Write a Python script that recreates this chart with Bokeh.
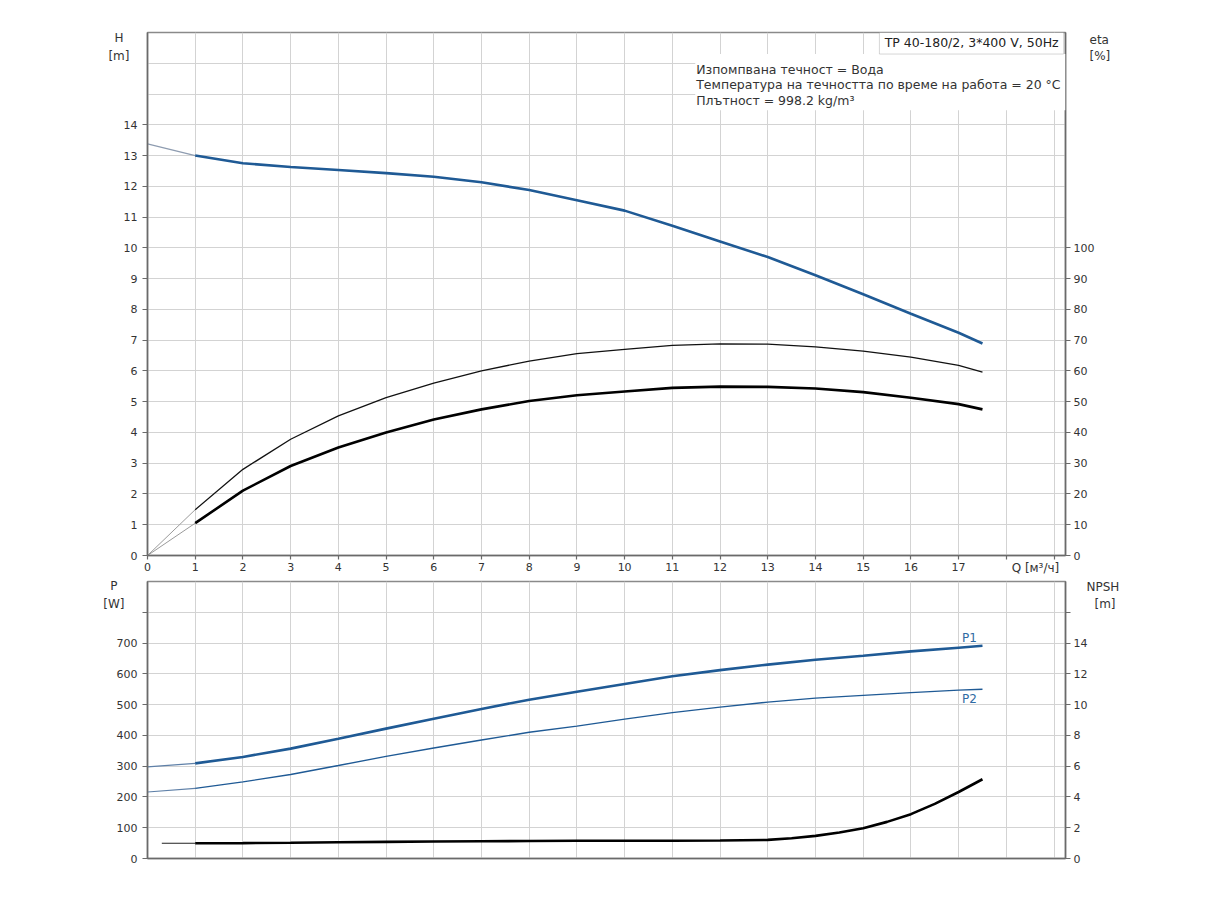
from bokeh.plotting import figure
from bokeh.models import Range1d, LinearAxis, FixedTicker, Label, BoxAnnotation
from bokeh.layouts import column
from bokeh.embed import file_html
from bokeh.resources import INLINE

FONT = "DejaVu Sans"
BLUE = "#1f5a95"

# ---- data ----
q_lead = [0, 1]
q = [1, 2, 3, 4, 5, 6, 7, 8, 9, 10, 11, 12, 13, 14, 15, 16, 17, 17.5]

h_lead = [13.38, 13.0]
h = [13.0, 12.75, 12.63, 12.53, 12.43, 12.31, 12.13, 11.88, 11.55, 11.21,
     10.72, 10.21, 9.70, 9.11, 8.49, 7.86, 7.24, 6.89]

eta_pump_lead = [0, 14.9]
eta_pump = [14.9, 28.0, 37.8, 45.4, 51.3, 56.0, 60.0, 63.2, 65.6, 67.0,
            68.3, 68.8, 68.7, 67.8, 66.4, 64.5, 61.8, 59.6]

eta_total_lead = [0, 10.5]
eta_total = [10.5, 21.1, 29.1, 35.1, 40.0, 44.2, 47.5, 50.2, 52.1, 53.3,
             54.5, 54.9, 54.8, 54.3, 53.1, 51.3, 49.2, 47.5]

p1_lead = [298, 309]
p1 = [309, 330, 357, 389, 422, 454, 486, 516, 542, 567,
      592, 612, 630, 646, 659, 673, 685, 691]

p2_lead = [216, 228]
p2 = [228, 249, 273, 302, 332, 359, 385, 410, 430, 453,
      474, 492, 508, 521, 530, 539, 547, 550]

q_npsh_lead = [0.3, 1]
npsh_lead = [0.99, 0.99]
q_npsh = [1, 2, 3, 4, 5, 6, 7, 8, 9, 10, 11, 12, 13, 13.5, 14, 14.5, 15,
          15.5, 16, 16.5, 17, 17.5]
npsh = [0.99, 1.0, 1.02, 1.06, 1.08, 1.10, 1.12, 1.14, 1.15, 1.15, 1.15,
        1.17, 1.21, 1.32, 1.47, 1.69, 1.97, 2.38, 2.88, 3.55, 4.32, 5.15]

x_ticks = list(range(0, 20))
x_tick_labels = {i: (str(i) if i <= 17 else "") for i in x_ticks}
h_ticks = list(range(0, 15))
h_grid = list(range(0, 18))
eta_ticks = list(range(0, 101, 10))
p_ticks = list(range(0, 801, 100))
p_tick_labels = {v: (str(v) if v <= 700 else "") for v in p_ticks}
p_grid = list(range(0, 901, 100))
npsh_ticks = list(range(0, 17, 2))
npsh_tick_labels = {v: (str(v) if v <= 14 else "") for v in npsh_ticks}

model_text = "TP 40-180/2, 3*400 V, 50Hz"
info_lines = ["Изпомпвана течност = Вода",
              "Температура на течността по време на работа = 20 °C",
              "Плътност = 998.2 kg/m³"]
q_title = "Q [м³/ч]"

AX_COL = "#6a6a6a"
GRID_COL = "#d3d3d3"
TXT_COL = "#333333"


def style_axis(ax, tick_out=5, standoff=4):
    ax.axis_line_color = AX_COL
    ax.axis_line_width = 1.6
    ax.major_tick_line_color = AX_COL
    ax.major_tick_line_width = 1.2
    ax.major_tick_in = 0
    ax.major_tick_out = tick_out
    ax.minor_tick_line_color = None
    ax.major_label_text_font = FONT
    ax.major_label_text_font_size = "11px"
    ax.major_label_text_color = TXT_COL
    ax.major_label_standoff = standoff


def title_axis(p, place, labels, standoff, size="12px"):
    """An axis with no line and no tick marks, used to carry a unit title."""
    ax = LinearAxis(ticker=FixedTicker(ticks=list(labels.keys())),
                    major_label_overrides=labels)
    ax.axis_line_color = None
    ax.major_tick_line_color = None
    ax.minor_tick_line_color = None
    ax.major_tick_in = 0
    ax.major_tick_out = 0
    ax.minor_tick_in = 0
    ax.minor_tick_out = 0
    ax.major_label_standoff = standoff
    ax.major_label_text_font = FONT
    ax.major_label_text_font_size = size
    ax.major_label_text_color = TXT_COL
    p.add_layout(ax, place)


def style_fig(p):
    p.xgrid.ticker = FixedTicker(ticks=x_ticks)
    p.grid.grid_line_color = GRID_COL
    p.grid.grid_line_width = 1
    p.outline_line_color = "#8a8a8a"
    p.outline_line_width = 1.4
    p.background_fill_color = "white"
    p.border_fill_color = "white"


def add_text(p, text, x, y, align="left", size="12px", color=TXT_COL):
    p.add_layout(Label(x=x, y=y, text=text, text_font=FONT, text_font_size=size,
                       text_color=color, text_align=align, text_baseline="middle"))


# ---------------- top chart: H and eta ----------------
top = figure(frame_width=918, frame_height=523,
             x_range=Range1d(0, 19.24), y_range=Range1d(0, 17),
             output_backend="svg", toolbar_location=None,
             min_border_left=147, min_border_right=80,
             min_border_top=32, min_border_bottom=22)
top.extra_y_ranges = {"eta": Range1d(0, 170)}
style_fig(top)
top.ygrid.ticker = FixedTicker(ticks=h_grid)

top.xaxis.ticker = FixedTicker(ticks=x_ticks)
top.xaxis.major_label_overrides = x_tick_labels
style_axis(top.xaxis[0], tick_out=4, standoff=3)
top.yaxis.ticker = FixedTicker(ticks=h_ticks)
style_axis(top.yaxis[0], tick_out=5, standoff=5)

eta_axis = LinearAxis(y_range_name="eta", ticker=FixedTicker(ticks=eta_ticks))
style_axis(eta_axis, tick_out=5, standoff=3)
top.add_layout(eta_axis, "right")

# unit titles carried by line-less axes
title_axis(top, "left", {16.23: "[m]"}, -9)
title_axis(top, "left", {16.81: "H"}, -18)
title_axis(top, "right", {16.77: "eta", 16.25: "[%]"}, -8)
title_axis(top, "below", {18.61: q_title}, -13)

top.line(q_lead, h_lead, line_color="#8e9cb0", line_width=1.2)
top.line(q, h, line_color=BLUE, line_width=2.6)
top.line(q_lead, eta_pump_lead, y_range_name="eta", line_color="#9a9a9a", line_width=1)
top.line(q, eta_pump, y_range_name="eta", line_color="#111111", line_width=1.3)
top.line(q_lead, eta_total_lead, y_range_name="eta", line_color="#9a9a9a", line_width=1)
top.line(q, eta_total, y_range_name="eta", line_color="#000000", line_width=2.6)

top.add_layout(BoxAnnotation(left=11.48, right=19.24, bottom=14.47, top=16.30,
                             fill_color="white", fill_alpha=1.0, line_color=None))
top.add_layout(BoxAnnotation(left=15.34, right=19.2, bottom=16.30, top=17,
                             fill_color="white", fill_alpha=1.0,
                             line_color="#7a7a7a", line_width=1))
add_text(top, model_text, 15.45, 16.66, size="12.5px", color="#222222")
for txt, yy in zip(info_lines, [15.81, 15.32, 14.78]):
    add_text(top, txt, 11.5, yy, size="12.5px")

# ---------------- bottom chart: P and NPSH ----------------
bot = figure(frame_width=918, frame_height=277,
             x_range=Range1d(0, 19.24), y_range=Range1d(0, 900),
             output_backend="svg", toolbar_location=None,
             min_border_left=147, min_border_right=80,
             min_border_top=4, min_border_bottom=12)
bot.extra_y_ranges = {"npsh": Range1d(0, 18)}
style_fig(bot)
bot.ygrid.ticker = FixedTicker(ticks=p_grid)

bot.xaxis.ticker = FixedTicker(ticks=[])
style_axis(bot.xaxis[0], tick_out=0, standoff=0)
bot.yaxis.ticker = FixedTicker(ticks=p_ticks)
bot.yaxis.major_label_overrides = p_tick_labels
style_axis(bot.yaxis[0], tick_out=5, standoff=5)

npsh_axis = LinearAxis(y_range_name="npsh", ticker=FixedTicker(ticks=npsh_ticks),
                       major_label_overrides=npsh_tick_labels)
style_axis(npsh_axis, tick_out=5, standoff=3)
bot.add_layout(npsh_axis, "right")

title_axis(bot, "left", {827.5: "[W]"}, -11)
title_axis(bot, "left", {884.7: "P"}, -17)
title_axis(bot, "right", {881.4: "NPSH"}, -4)
title_axis(bot, "right", {827.5: "[m]"}, -28)

bot.line(q_lead, p1_lead, line_color="#5f80a8", line_width=1.3)
bot.line(q, p1, line_color=BLUE, line_width=2.6)
bot.line(q_lead, p2_lead, line_color="#5f80a8", line_width=1.1)
bot.line(q, p2, line_color=BLUE, line_width=1.4)
bot.line(q_npsh_lead, npsh_lead, y_range_name="npsh", line_color="#222222", line_width=1.1)
bot.line(q_npsh, npsh, y_range_name="npsh", line_color="#000000", line_width=2.6)

add_text(bot, "P1", 17.07, 718, color="#2f6aa3")
add_text(bot, "P2", 17.07, 519, color="#2f6aa3")

layout = column(top, bot, spacing=0)
open("out.html", "w").write(file_html(layout, INLINE))
